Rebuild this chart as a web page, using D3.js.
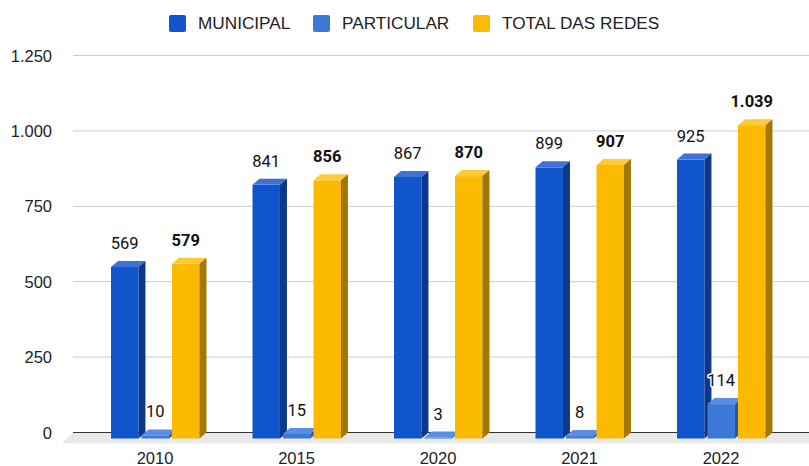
<!DOCTYPE html>
<html>
<head>
<meta charset="utf-8">
<script src="https://cdn.jsdelivr.net/npm/d3@7"></script>
<style>
  body { margin: 0; background: #fff; }
  svg { display: block; }
</style>
</head>
<body>
<div id="chart"></div>
<script>
// chart data
let years = ["2010", "2015", "2020", "2021", "2022"];
let series = ["MUNICIPAL", "PARTICULAR", "TOTAL DAS REDES"];
let municipal = [569, 841, 867, 899, 925];
let particular = [10, 15, 3, 8, 114];
let total = [579, 856, 870, 907, 1039];
let yTicks = [0, 250, 500, 750, 1000, 1250];

let values = [municipal, particular, total];
let colors = [
  { front: "#1155cc", top: "#3f72d4", side: "#0b388a" },
  { front: "#3c78d8", top: "#5a8ee0", side: "#2a58a8" },
  { front: "#fbb900", top: "#fdcb38", side: "#a47800" }
];

let width = 809, height = 466;
let dx = 7, dy = 6; // 3d depth

let svg = d3.select("#chart").append("svg")
  .attr("width", width)
  .attr("height", height);

let y = d3.scaleLinear().domain([0, 1250]).range([432.5, 55.5]);
let x0 = d3.scaleBand().domain(years).range([84.25, 791.75]);
let x1 = d3.scaleBand().domain(series).range([-44, 44.45]).paddingInner(0.1);

let fmt = d3.formatLocale({ decimal: ",", thousands: ".", grouping: [3], currency: ["", ""] }).format(",d");

// floor
svg.append("polygon")
  .attr("points", [[73, y(0)], [width, y(0)], [width, y(0) + 11], [62, y(0) + 11]].join(" "))
  .attr("fill", "#e9e9e9");

// gridlines + y labels
svg.selectAll(".grid")
  .data(yTicks.filter(d => d > 0))
  .enter().append("line")
  .attr("x1", 73).attr("x2", width)
  .attr("y1", d => y(d)).attr("y2", d => y(d))
  .attr("stroke", "#cccccc");

svg.append("line")
  .attr("x1", 73).attr("x2", width)
  .attr("y1", y(0)).attr("y2", y(0))
  .attr("stroke", "#333");

svg.selectAll(".ylab")
  .data(yTicks)
  .enter().append("text")
  .attr("x", 52)
  .attr("y", d => y(d) + 6)
  .attr("text-anchor", "end")
  .attr("font-family", "Liberation Sans, Arial, sans-serif")
  .attr("font-size", 16.5)
  .attr("fill", "#222")
  .text(d => fmt(d));

// x labels
svg.selectAll(".xlab")
  .data(years)
  .enter().append("text")
  .attr("x", d => x0(d) + x0.bandwidth() / 2)
  .attr("y", 464)
  .attr("text-anchor", "middle")
  .attr("font-family", "Liberation Sans, Arial, sans-serif")
  .attr("font-size", 16.5)
  .attr("fill", "#222")
  .text(d => d);

// bars
let bars = [];
years.forEach((yr, i) => {
  series.forEach((s, j) => {
    bars.push({ year: yr, s: s, j: j, v: values[j][i] });
  });
});

let w = x1.bandwidth();
let g = svg.selectAll(".bar")
  .data(bars)
  .enter().append("g");

function fx(d) { return x0(d.year) + x0.bandwidth() / 2 + x1(d.s); }

g.append("rect")
  .attr("x", d => fx(d))
  .attr("y", d => y(d.v) + dy)
  .attr("width", w)
  .attr("height", d => y(0) - y(d.v))
  .attr("fill", d => colors[d.j].front);

g.append("polygon")
  .attr("points", d => {
    let a = fx(d), t = y(d.v) + dy;
    return [[a, t], [a + dx, t - dy], [a + w + dx, t - dy], [a + w, t]].join(" ");
  })
  .attr("fill", d => colors[d.j].top);

g.append("polygon")
  .attr("points", d => {
    let a = fx(d) + w, t = y(d.v) + dy, b = y(0) + dy;
    return [[a, t], [a + dx, t - dy], [a + dx, b - dy], [a, b]].join(" ");
  })
  .attr("fill", d => colors[d.j].side);

// data labels
svg.selectAll(".lab")
  .data(bars)
  .enter().append("text")
  .attr("x", d => fx(d) + w / 2)
  .attr("y", d => y(d.v) - 12)
  .attr("text-anchor", "middle")
  .attr("font-family", "Roboto, sans-serif")
  .attr("font-size", 16.5)
  .attr("font-weight", d => d.j == 2 ? "bold" : "normal")
  .attr("fill", "#111")
  .attr("stroke", "#fff")
  .attr("stroke-width", 3)
  .attr("paint-order", "stroke")
  .attr("stroke-linejoin", "round")
  .text(d => fmt(d.v));

// legend
let legX = [169, 313, 473];
let leg = svg.selectAll(".leg")
  .data(series)
  .enter().append("g");

leg.append("rect")
  .attr("x", (d, i) => legX[i])
  .attr("y", 15)
  .attr("width", 17).attr("height", 17)
  .attr("rx", 2)
  .attr("fill", (d, i) => colors[i].front);

leg.append("text")
  .attr("x", (d, i) => legX[i] + 29)
  .attr("y", 29)
  .attr("font-family", "Liberation Sans, Arial, sans-serif")
  .attr("font-size", 17.2)
  .attr("fill", "#222")
  .text(d => d);
</script>
</body>
</html>
